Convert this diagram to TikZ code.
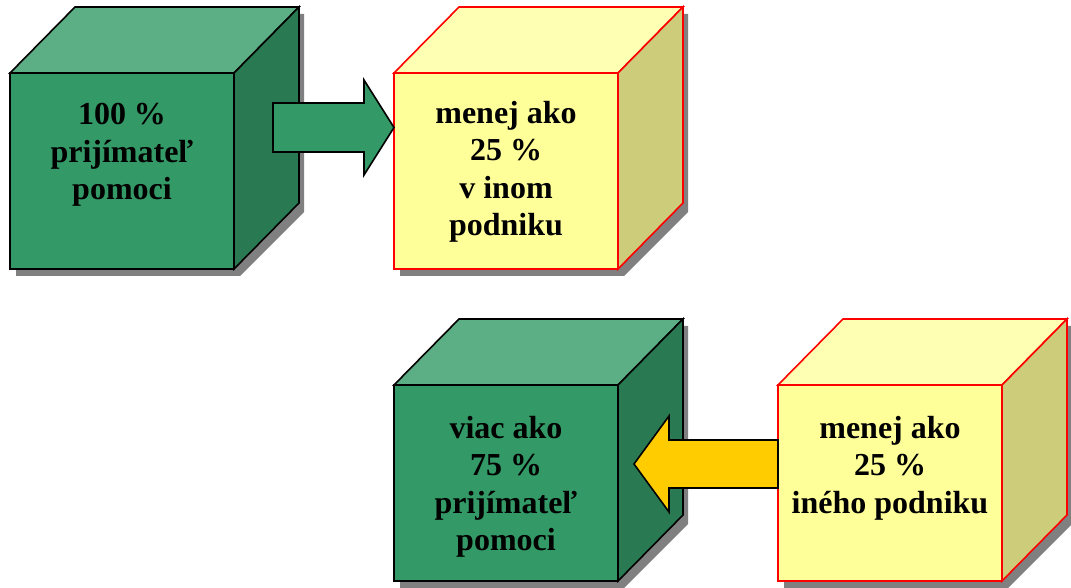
\documentclass[tikz,border=0pt]{standalone}
\usepackage{fontspec}
\setmainfont{Liberation Serif}
\usetikzlibrary{calc}

\definecolor{greenF}{RGB}{51,153,102}
\definecolor{greenT}{RGB}{92,174,132}
\definecolor{greenS}{RGB}{41,122,82}
\definecolor{greenE}{RGB}{0,0,0}
\definecolor{yelF}{RGB}{255,255,153}
\definecolor{yelT}{RGB}{255,255,179}
\definecolor{yelS}{RGB}{204,204,122}
\definecolor{yelE}{RGB}{255,0,0}
\definecolor{arrowyel}{RGB}{255,204,0}

\begin{document}
\begin{tikzpicture}[x=0.5pt, y=-0.5pt,
    shadow/.style={fill=black!50, draw=none},
    face/.style={line width=0.8pt, line join=miter},
    label/.style={align=center, font=\fontsize{16}{18.75}\selectfont\bfseries},
    blockarrow/.style={draw=black, line width=0.8pt, line join=miter}]
    \useasboundingbox (0, 0) rectangle (1071, 588);

    % cubes: front corner, colour set
    \foreach \x/\y/\c in {10/73/green, 394/73/yel, 394/385/green, 778/385/yel} {
        \fill[shadow] (\x+6, \y+7) -- (\x+71, \y-59) -- (\x+294, \y-59) -- (\x+294, \y+139)
            -- (\x+230, \y+203) -- (\x+6, \y+203) -- cycle;
        \draw[face, fill=\c F, draw=\c E] (\x, \y) -- (\x+224, \y) -- (\x+224, \y+196) -- (\x, \y+196) -- cycle;
        \draw[face, fill=\c T, draw=\c E] (\x, \y) -- (\x+65, \y-66) -- (\x+289, \y-66) -- (\x+224, \y) -- cycle;
        \draw[face, fill=\c S, draw=\c E] (\x+224, \y) -- (\x+289, \y-66) -- (\x+289, \y+130) -- (\x+224, \y+196) -- cycle;
    }

    \node[label] (recipient) at (122, 155) {100 \%\\prijímateľ\\pomoci};
    \node[label] (other) at (506, 172) {menej ako\\25 \%\\v inom\\podniku};
    \node[label] (recipient2) at (506, 487) {viac ako\\75 \%\\prijímateľ\\pomoci};
    \node[label] (other2) at (890, 468) {menej ako\\25 \%\\iného podniku};

    % arrow ends
    \coordinate (tail1) at (273, 127.5);
    \coordinate (tip1) at (394, 127.5);
    \coordinate (tail2) at (778, 464);
    \coordinate (tip2) at (634, 464);

    \draw[blockarrow, fill=greenF] ($(tail1)+(0,-24.5)$) -- ($(tip1)+(-30,-24.5)$) -- ($(tip1)+(-30,-47.5)$)
        -- (tip1) -- ($(tip1)+(-30,47.5)$) -- ($(tip1)+(-30,24.5)$) -- ($(tail1)+(0,24.5)$) -- cycle;
    \draw[blockarrow, fill=arrowyel] ($(tail2)+(0,-24)$) -- ($(tip2)+(35,-24)$) -- ($(tip2)+(35,-48)$)
        -- (tip2) -- ($(tip2)+(35,48)$) -- ($(tip2)+(35,24)$) -- ($(tail2)+(0,24)$) -- cycle;
\end{tikzpicture}
\end{document}
